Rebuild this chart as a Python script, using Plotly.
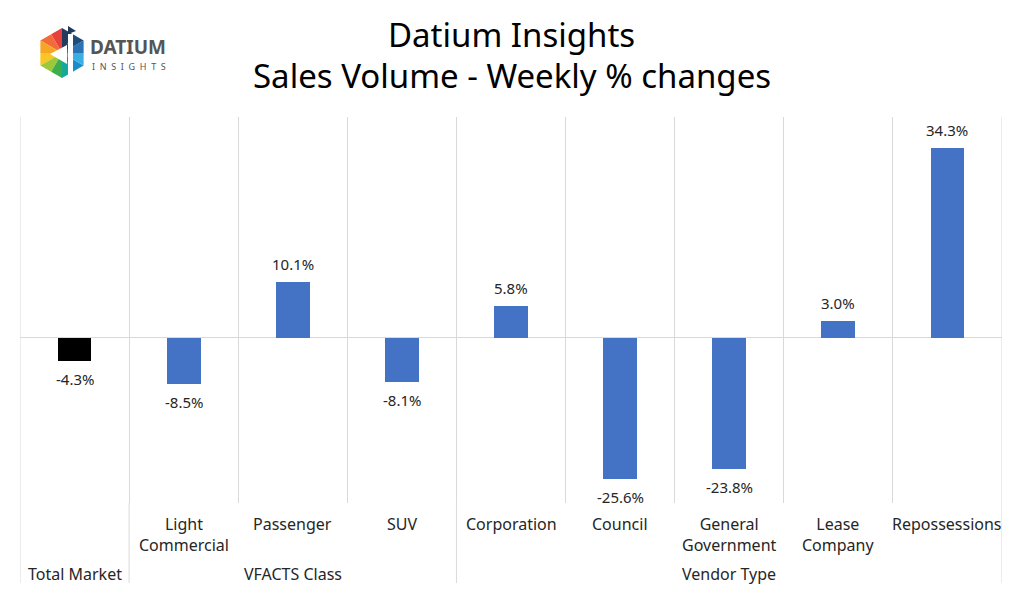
import plotly.graph_objects as go
import math

# ---------------- data ----------------
categories = ["Total Market", "Light Commercial", "Passenger", "SUV", "Corporation",
              "Council", "General Government", "Lease Company", "Repossessions"]
sub_labels = ["", "Light<br>Commercial", "Passenger", "SUV", "Corporation",
              "Council", "General<br>Government", "Lease<br>Company", "Repossessions"]
group_labels = ["Total Market", "VFACTS Class", "Vendor Type"]
group_first = [0, 1, 4]
group_last = [0, 3, 8]
values = [-4.3, -8.5, 10.1, -8.1, 5.8, -25.6, -23.8, 3.0, 34.3]
title_lines = ["Datium Insights", "Sales Volume - Weekly % changes"]

# ---------------- styling ----------------
W, H = 1024, 594
ML, MR, MT, MB = 20, 22, 117, 91
PW, PH = W - ML - MR, H - MT - MB
FONT = "Noto Sans"
BLUE = "#4472C4"
GRID = "#d9d9d9"
TXT = "#262626"


def px(x):
    return (x - ML) / PW


def py(y):
    return (H - MB - y) / PH


xs = list(range(len(categories)))
bar_colors = ["#000000"] + [BLUE] * (len(categories) - 1)

fig = go.Figure()
fig.add_trace(go.Bar(
    x=xs, y=values, width=0.31,
    marker=dict(color=bar_colors, line=dict(width=0)),
    hoverinfo="skip",
))

shapes = []
annotations = []

# data labels
for x, v in zip(xs, values):
    annotations.append(dict(x=x, y=v, xref="x", yref="y", text=f"{v:.1f}%", showarrow=False,
                            xanchor="center", yanchor="bottom" if v >= 0 else "top",
                            yshift=6 if v >= 0 else -6,
                            font=dict(family=FONT, size=15, color=TXT)))

# outer borders and group separators extending below plot area
ext = py(583)
for b in [-0.5, 8.5]:
    shapes.append(dict(type="line", xref="x", yref="paper", x0=b, x1=b, y0=ext, y1=1,
                       line=dict(color=GRID, width=1)))
for gl in group_last[:-1]:
    b = gl + 0.5
    shapes.append(dict(type="line", xref="x", yref="paper", x0=b, x1=b, y0=ext, y1=0,
                       line=dict(color=GRID, width=1)))

# category labels
for i, lab in enumerate(sub_labels):
    if lab:
        annotations.append(dict(x=xs[i], y=py(511), xref="x", yref="paper", text=lab,
                                showarrow=False, yanchor="top", xanchor="center",
                                font=dict(family=FONT, size=16, color=TXT)))
for g, a, b in zip(group_labels, group_first, group_last):
    annotations.append(dict(x=(xs[a] + xs[b]) / 2, y=py(574), xref="x", yref="paper", text=g,
                            showarrow=False, yanchor="middle", xanchor="center",
                            font=dict(family=FONT, size=16, color=TXT)))

# title
for t, yy in zip(title_lines, [35, 75]):
    annotations.append(dict(x=px(512), y=py(yy), xref="paper", yref="paper", text=t,
                            showarrow=False, xanchor="center", yanchor="middle",
                            font=dict(family=FONT, size=33, color="#000000")))

# logo: hexagon made of coloured triangles
cx, cy, R = 62, 53, 25
hex_pts = [(cx + R * math.cos(math.radians(90 + 60 * k)), cy - R * math.sin(math.radians(90 + 60 * k)))
           for k in range(6)]
sector_cols = [["#E8413C", "#F26B38"],   # top-left
               ["#F7A623", "#F9C623"],   # left
               ["#9CC83C", "#3DAE4B"],   # bottom-left
               ["#16A89A", "#1B8CCB"],   # bottom-right
               ["#3AB0E2", "#2A74B5"],   # right
               ["#1E4D7B", "#243B5E"]]   # top-right
for k in range(6):
    p1 = hex_pts[k]
    p2 = hex_pts[(k + 1) % 6]
    m = ((p1[0] + p2[0]) / 2, (p1[1] + p2[1]) / 2)
    for (a, b), col in zip([(p1, m), (m, p2)], sector_cols[k]):
        path = f"M {px(cx)},{py(cy)} L {px(a[0])},{py(a[1])} L {px(b[0])},{py(b[1])} Z"
        shapes.append(dict(type="path", xref="paper", yref="paper", path=path,
                           fillcolor=col, line=dict(width=0)))
# white "d" glyph
d_tri = [(50, 54), (67, 45), (67, 64)]
path = "M " + " L ".join(f"{px(x)},{py(y)}" for x, y in d_tri) + " Z"
shapes.append(dict(type="path", xref="paper", yref="paper", path=path,
                   fillcolor="white", line=dict(width=0)))
shapes.append(dict(type="rect", xref="paper", yref="paper", x0=px(68), x1=px(73), y0=py(76), y1=py(34),
                   fillcolor="white", line=dict(width=0)))
flag = [(68, 26), (76, 31), (68, 34)]
path = "M " + " L ".join(f"{px(x)},{py(y)}" for x, y in flag) + " Z"
shapes.append(dict(type="path", xref="paper", yref="paper", path=path,
                   fillcolor="#1E3A5F", line=dict(width=0)))

annotations.append(dict(x=px(88), y=py(47), xref="paper", yref="paper", text="<b>DATIUM</b>",
                        showarrow=False, xanchor="left", yanchor="middle",
                        font=dict(family=FONT, size=19, color="#555555")))
annotations.append(dict(x=px(90), y=py(66), xref="paper", yref="paper",
                        text="&nbsp;&nbsp;".join("INSIGHTS"),
                        showarrow=False, xanchor="left", yanchor="middle",
                        font=dict(family=FONT, size=9, color="#555555")))

fig.update_layout(
    width=W, height=H,
    margin=dict(l=ML, r=MR, t=MT, b=MB, pad=0),
    paper_bgcolor="white", plot_bgcolor="white",
    showlegend=False,
    bargap=0,
    xaxis=dict(range=[-0.5, 8.5], tickvals=[i + 0.5 for i in xs[:-1]], showticklabels=False,
               showgrid=True, gridcolor=GRID, gridwidth=1, zeroline=False, ticks="",
               showline=False, fixedrange=True),
    yaxis=dict(range=[-30, 40], showgrid=False, showticklabels=False, zeroline=True,
               zerolinecolor=GRID, zerolinewidth=1, ticks="", showline=False, fixedrange=True),
    shapes=shapes,
    annotations=annotations,
)

fig.write_html("out.html")
